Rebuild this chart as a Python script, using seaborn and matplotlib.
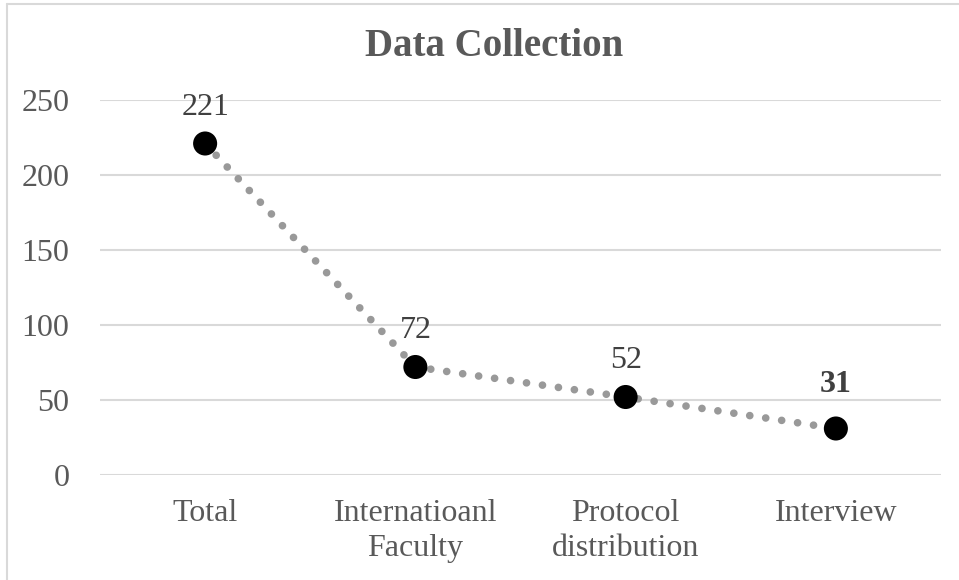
import matplotlib
matplotlib.use("Agg")
import matplotlib.pyplot as plt
import seaborn as sns
import pandas as pd
from matplotlib.lines import Line2D

sns.set_style("white")
plt.rcParams['font.family'] = ['Liberation Serif', 'DejaVu Serif']

# data
stages = ["Total", "Internatioanl\nFaculty", "Protocol\ndistribution", "Interview"]
counts = [221, 72, 52, 31]
yticks = [0, 50, 100, 150, 200, 250]

df = pd.DataFrame({"stage": stages, "count": counts, "pos": range(len(stages))})

fig = plt.figure(figsize=(9.59, 5.80), dpi=100)
ax = fig.add_axes([100 / 959, 105 / 580, 841 / 959, 375 / 580])

# dotted connecting line
sns.lineplot(data=df, x="pos", y="count", ax=ax, color="#999999", linewidth=5.5,
             linestyle=(0, (0.01, 2.1)), dash_capstyle="round", zorder=2)
# markers
sns.scatterplot(data=df, x="pos", y="count", ax=ax, color="black", s=300,
                edgecolor="none", zorder=3)

for i, v in enumerate(counts):
    bold = i == len(counts) - 1
    ax.annotate(str(v), (i, v), xytext=(0, 32 if bold else 26), textcoords="offset points",
                ha="center", va="center", fontsize=23, color="#404040",
                fontweight="bold" if bold else "normal")

ax.set_xlim(-0.5, len(stages) - 0.5)
ax.set_ylim(0, 250)
ax.set_xticks(range(len(stages)))
ax.set_xticklabels(stages, fontsize=23, color="#595959", linespacing=1.3)
ax.set_yticks(yticks)
ax.set_yticklabels([str(t) for t in yticks], fontsize=23, color="#595959")
ax.tick_params(axis="both", length=0)
ax.tick_params(axis="x", pad=17)
ax.tick_params(axis="y", pad=22)
ax.set_xlabel("")
ax.set_ylabel("")
ax.yaxis.grid(True, color="#d9d9d9", linewidth=1.5)
ax.set_axisbelow(True)
for s in ax.spines.values():
    s.set_visible(False)
for c in ax.collections + ax.lines:
    c.set_clip_on(False)

fig.text(494 / 959, 1 - 46 / 580, "Data Collection", ha="center", va="center",
         fontsize=28, fontweight="bold", color="#595959")

# outer frame (left and top)
fig.add_artist(Line2D([7 / 959, 7 / 959], [0, 1 - 4 / 580], transform=fig.transFigure,
                      color="#d9d9d9", linewidth=1.5))
fig.add_artist(Line2D([7 / 959, 1], [1 - 4 / 580, 1 - 4 / 580], transform=fig.transFigure,
                      color="#d9d9d9", linewidth=1.5))

fig.savefig("out.png", dpi=100)
